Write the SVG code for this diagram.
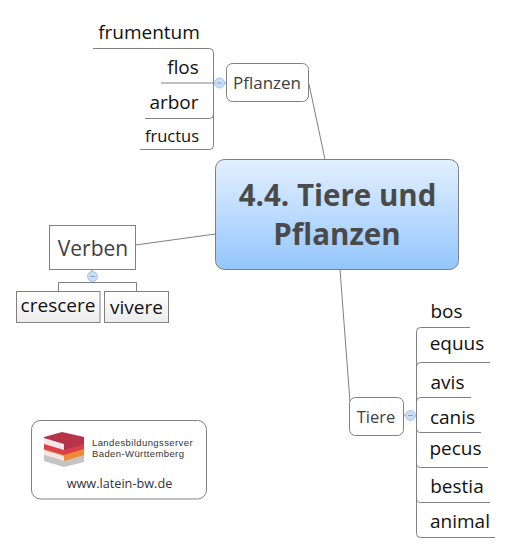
<svg xmlns="http://www.w3.org/2000/svg" width="511" height="553" viewBox="0 0 511 553">
<style>
text{font-family:"Open Sans","Noto Sans","Liberation Sans",sans-serif;fill:#111}
.l{font-size:19px;text-anchor:middle}
.n{fill:#fff;stroke:#808080;stroke-width:1}
.c{fill:none;stroke:#808080;stroke-width:1}
.t{fill:#404040;text-anchor:middle}
.m{fill:#c9dcf8;stroke:#a9c4ee;stroke-width:1}
.d{stroke:#8aa0c8;stroke-width:1}
.b{font-family:"Liberation Sans",sans-serif;font-size:9.500px;letter-spacing:.4px;fill:#333}
</style>
<defs>
<linearGradient id="g" x1="0" y1="0" x2="0" y2="1"><stop offset="0" stop-color="#e3f0ff"/><stop offset="1" stop-color="#94c6fc"/></linearGradient>
<linearGradient id="s" x1="0" y1="0" x2="0" y2="1"><stop offset="0" stop-color="#ffffff"/><stop offset="1" stop-color="#ececec"/></linearGradient>
</defs>
<g id="connectors">
<path class="c" d="M309 84L325 159.500M135.500 245L215.500 234M340 269.500L350 402"/>
<path class="c" d="M226.500 83H161M93 48.500H209.500Q213.500 48.500 213.500 52.500V145.500Q213.500 149.500 209.500 149.500H140M145 118.500H209.500Q213.500 118.500 213.500 114.500"/>
<path class="c" d="M92 269.500V282M58.500 291.500V282.500H136.500V291.500"/>
<path class="c" d="M403.500 415H416.500M470 327.500H420.500Q416.500 327.500 416.500 331.500V533.500Q416.500 537.500 420.500 537.500H495M490 362.500H420.500Q416.500 362.500 416.500 366.500M471 397.500H420.500Q416.500 397.500 416.500 401.500M416.500 428Q416.500 432.500 420.500 432.500H481M416.500 463Q416.500 467.500 420.500 467.500H488M416.500 498Q416.500 502.500 420.500 502.500H490"/>
</g>
<g id="main"><rect x="215.500" y="159.500" width="243" height="110" rx="9" fill="url(#g)" stroke="#808080"/>
<text x="337.500" y="205.500" font-size="29.500" font-weight="700" style="fill:#4a4a4a" text-anchor="middle">4.4. Tiere und</text>
<text x="337" y="245" font-size="29.500" font-weight="700" style="fill:#4a4a4a" text-anchor="middle">Pflanzen</text></g>
<g id="pflanzen"><rect class="n" x="226.500" y="63.500" width="82" height="38" rx="6"/>
<text class="t" x="267" y="89" font-size="17" style="fill:#404040">Pflanzen</text>
<circle class="m" cx="219.500" cy="83" r="5"/><path class="d" d="M217 83H222"/></g>
<g id="frumentum"><text class="l" x="149" y="39">frumentum</text></g>
<g id="flos"><text class="l" x="183" y="74">flos</text></g>
<g id="arbor"><text class="l" x="174" y="109">arbor</text></g>
<g id="fructus"><text x="172" y="142" font-size="16.500" text-anchor="middle">fructus</text></g>
<g id="verben"><rect class="n" x="49.500" y="225.500" width="86" height="44"/>
<text class="t" x="93" y="256" font-size="21" style="fill:#404040">Verben</text>
<circle class="m" cx="92.500" cy="276.500" r="5"/><path class="d" d="M90 276.500H95"/></g>
<g id="crescere"><rect x="16.500" y="291.500" width="83.500" height="31" fill="url(#s)" stroke="#808080"/><text class="l" x="58" y="312">crescere</text></g>
<g id="vivere"><rect x="104.500" y="291.500" width="64" height="31" fill="url(#s)" stroke="#808080"/><text class="l" x="136.500" y="314">vivere</text></g>
<g id="tiere"><rect class="n" x="349.500" y="397.500" width="54" height="38" rx="6"/>
<text class="t" x="376" y="423" font-size="16.500" style="fill:#404040">Tiere</text>
<circle class="m" cx="410.500" cy="415.500" r="5"/><path class="d" d="M408 415.500H413"/></g>
<g id="bos"><text class="l" x="446.500" y="318">bos</text></g>
<g id="equus"><text class="l" x="457" y="349.500">equus</text></g>
<g id="avis"><text class="l" x="447.500" y="388.500">avis</text></g>
<g id="canis"><text class="l" x="452.500" y="423.500">canis</text></g>
<g id="pecus"><text class="l" x="455.500" y="454.500">pecus</text></g>
<g id="bestia"><text class="l" x="457" y="493">bestia</text></g>
<g id="animal"><text class="l" x="460" y="528">animal</text></g>
<g id="logo"><rect class="n" x="31.500" y="420.500" width="175" height="78.500" rx="9"/>
<path d="M44 454L64 449L84 455V462L64 467L44 461Z" fill="#c4c4c4"/>
<path d="M44 449L64 444L84 449V455L64 461L44 455Z" fill="#ef8a35"/>
<path d="M44 443L64 438L84 443V449L64 455L44 449Z" fill="#d9404c"/>
<path d="M44 437L62 432L84 437V444L64 450L44 443Z" fill="#b5344a"/>
<path d="M44 438L64 444V450L44 444Z M44 450L64 456V461L44 455Z" fill="#f4e6e6"/>
<text class="b" x="92" y="446">Landesbildungsserver</text>
<text class="b" x="92" y="457">Baden-Württemberg</text>
<text x="119.500" y="488" font-size="12.700" text-anchor="middle" style="fill:#333">www.latein-bw.de</text></g>
</svg>
